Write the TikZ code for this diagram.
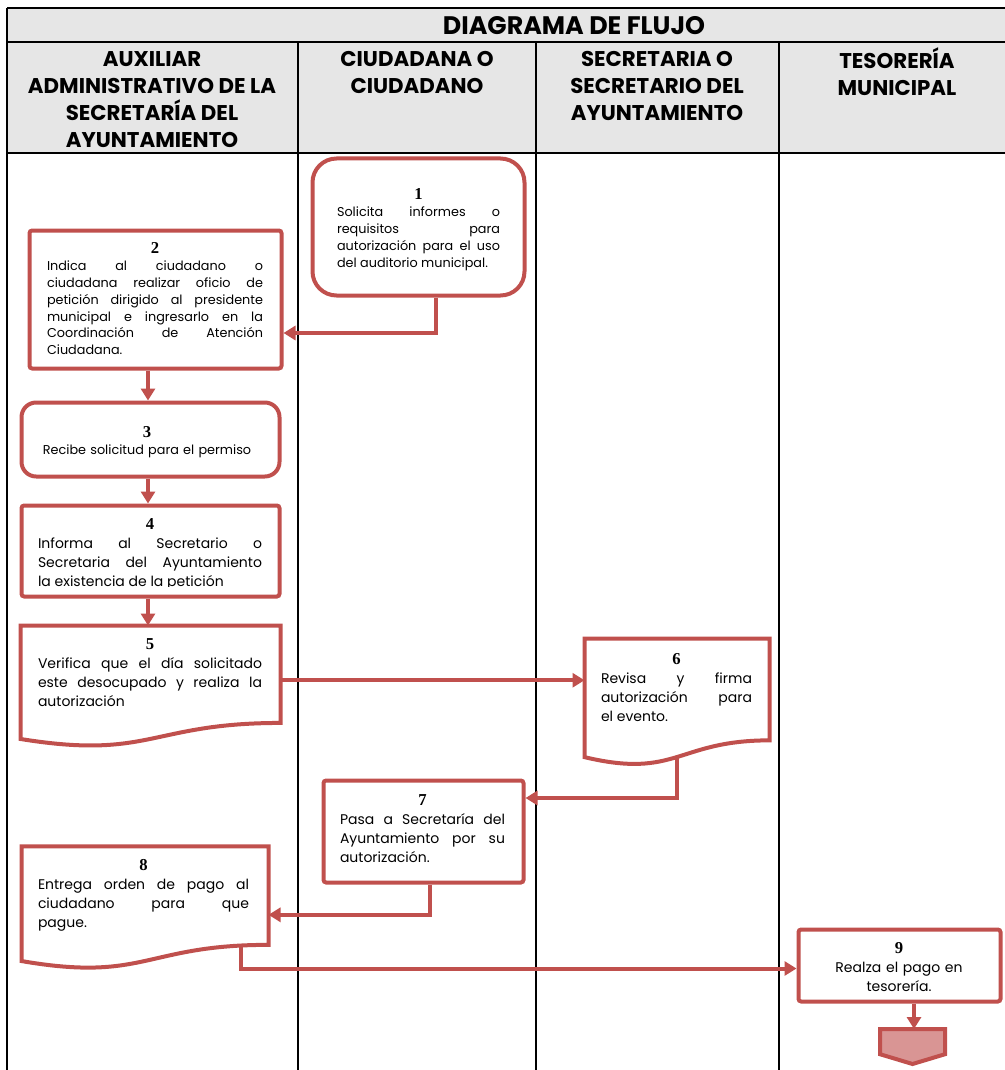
\documentclass[tikz,border=0pt]{standalone}
\usepackage{fontspec}
\setmainfont{Poppins}
\newfontfamily\numfont{Liberation Serif}
\usetikzlibrary{arrows.meta,calc}
\definecolor{flowred}{HTML}{C0504D}
\definecolor{headgray}{HTML}{E6E6E6}
\definecolor{termfill}{HTML}{D99594}
\newcommand\docpath[1]{\draw[flow,fill=white] (#1.north west) -- (#1.north east) -- ($(#1.north east)!0.802!(#1.south east)$) .. controls ($(#1.north)!0.802!(#1.south)$) and ($(#1.north)!1.108!(#1.south)$) .. ($(#1.north west)!0.934!(#1.south west)$) -- cycle;}
\newcommand\num[1]{{\centering\numfont\bfseries\fontsize{12.5}{14}\selectfont #1\par}}
\begin{document}
\begin{tikzpicture}[x=0.75pt,y=-0.75pt,
  box/.style={draw=flowred, line width=3pt, fill=white, inner sep=0pt},
  ghost/.style={draw=none, inner sep=0pt, outer sep=0pt},
  flow/.style={draw=flowred, line width=3pt, line join=miter},
  arr/.style={draw=flowred, line width=3pt, -{Triangle[length=9pt,width=10.5pt]}},
  grid/.style={draw=black, line width=0.9pt},
  hdr/.style={inner sep=0pt, align=center, font=\fontsize{16}{20.25}\selectfont\bfseries},
  txt/.style={inner sep=0pt, align=justify, anchor=north, font=\fontsize{10.5}{14.25}\selectfont,
    execute at begin node={\hyphenpenalty=10000\tolerance=10000}},
  smalltxt/.style={txt, font=\fontsize{9.6}{12.7}\selectfont}
]
\useasboundingbox (0,0) rectangle (1005,1070);
% table
\fill[headgray] (7,8) rectangle (1005,153);
\draw[grid] (7,8) -- (1005,8);
\draw[grid] (7,42) -- (1005,42);
\draw[grid] (7,153) -- (1005,153);
\draw[grid] (7,8) -- (7,1070);
\draw[grid] (298,42) -- (298,1070);
\draw[grid] (536,42) -- (536,1070);
\draw[grid] (779,42) -- (779,1070);
\node[hdr, font=\fontsize{19}{20}\selectfont\bfseries] (title) at (574,26) {DIAGRAMA DE FLUJO};
\node[hdr, anchor=north] (h1) at (152,51) {AUXILIAR\\ADMINISTRATIVO DE LA\\SECRETARÍA DEL\\AYUNTAMIENTO};
\node[hdr, anchor=north] (h2) at (417,51) {CIUDADANA O\\CIUDADANO};
\node[hdr, anchor=north] (h3) at (657,51) {SECRETARIA O\\SECRETARIO DEL\\AYUNTAMIENTO};
\node[hdr, anchor=north] (h4) at (897,47) {TESORERÍA\\MUNICIPAL};

% boxes
\node[box, rounded corners=18pt, minimum width=159pt, minimum height=102.75pt] (n1) at (418.5,227) {};
\node[box, rounded corners=2pt, minimum width=189pt, minimum height=103.5pt] (n2) at (155.5,299.5) {};
\node[box, rounded corners=11pt, minimum width=193.5pt, minimum height=55.5pt] (n3) at (150.5,439.5) {};
\node[box, rounded corners=2pt, minimum width=193.5pt, minimum height=68.25pt] (n4) at (150.5,551) {};
\node[ghost, minimum width=195pt, minimum height=91.1pt] (n5) at (150.5,686.25) {};
\docpath{n5}
\node[ghost, minimum width=138.75pt, minimum height=95.25pt] (n6) at (677,702) {};
\docpath{n6}
\node[box, rounded corners=2pt, minimum width=150pt, minimum height=76.5pt] (n7) at (423.5,831.5) {};
\node[ghost, minimum width=185.25pt, minimum height=92pt] (n8) at (145,907.8) {};
\docpath{n8}
\node[box, rounded corners=2pt, minimum width=151.5pt, minimum height=54pt] (n9) at (899.5,965.5) {};
\node[ghost, minimum width=48.75pt, minimum height=26.25pt] (n10) at (912.5,1046.5) {};
\draw[flow, fill=termfill] (n10.north west) -- (n10.north east) -- ($(n10.north east)!0.72!(n10.south east)$) -- (n10.south) -- ($(n10.north west)!0.72!(n10.south west)$) -- cycle;

% texts
\node[smalltxt, text width=122.25pt] (t1) at (418.5,188) {\num{1}Solicita informes o\linebreak requisitos para\linebreak autorización para el uso\linebreak del auditorio municipal.};
\node[smalltxt, text width=162pt] (t2) at (155,242) {\num{2}Indica al ciudadano o\linebreak ciudadana realizar oficio de\linebreak petición dirigido al presidente\linebreak municipal e ingresarlo en la\linebreak Coordinación de Atención\linebreak Ciudadana.};
\node[smalltxt, align=center, text width=170pt] (t3) at (147,426) {\num{3}Recibe solicitud para el permiso};
\begin{scope}
\clip (21.5,505.5) rectangle (279.5,586);
\node[txt, text width=168pt] (t4) at (150,518) {\num{4}Informa al Secretario o\linebreak Secretaria del Ayuntamiento\linebreak la existencia de la petición};
\end{scope}
\node[txt, text width=168pt] (t5) at (150,638) {\num{5}Verifica que el día solicitado\linebreak este desocupado y realiza la\linebreak autorización};
\node[txt, text width=113.25pt] (t6) at (676.5,653) {\num{6}Revisa y firma\linebreak autorización para\linebreak el evento.};
\node[txt, text width=123.75pt] (t7) at (422.5,794) {\num{7}Pasa a Secretaría del\linebreak Ayuntamiento por su\linebreak autorización.};
\node[txt, text width=158.25pt] (t8) at (143.5,859) {\num{8}Entrega orden de pago al\linebreak ciudadano para que\linebreak pague.};
\node[txt, align=center, text width=140pt] (t9) at (899,942) {\num{9}Realza el pago en\\tesorería.};

% connectors
\draw[arr] ($(n1.south)+(17.5,0)$) |- ($(n2.east)+(0,33.5)$);
\draw[arr] ($(n2.south)+(-7.5,0)$) -- ($(n3.north)+(-2.5,0)$);
\draw[arr] ($(n3.south)+(-2.5,0)$) -- ($(n4.north)+(-2.5,0)$);
\draw[arr] ($(n4.south)+(-2.5,0)$) -- ($(n5.north)+(-2.5,0)$);
\draw[arr] ($(n5.east)+(0,-6)$) coordinate (s56) -- (s56 -| n6.west);
\draw[arr] ($(n6.north)!0.933!(n6.south)$) |- ($(n7.east)+(0,-33.5)$);
\draw[arr] ($(n7.south)+(6.5,0)$) |- ($(n8.east)+(0,7)$);
\draw[arr] ($(n8.north)+(96,101)$) |- ($(n9.west)+(0,3)$);
\draw[arr] ($(n9.south)+(14.5,0)$) -- ($(n10.north)+(1.5,0)$);
\end{tikzpicture}
\end{document}
